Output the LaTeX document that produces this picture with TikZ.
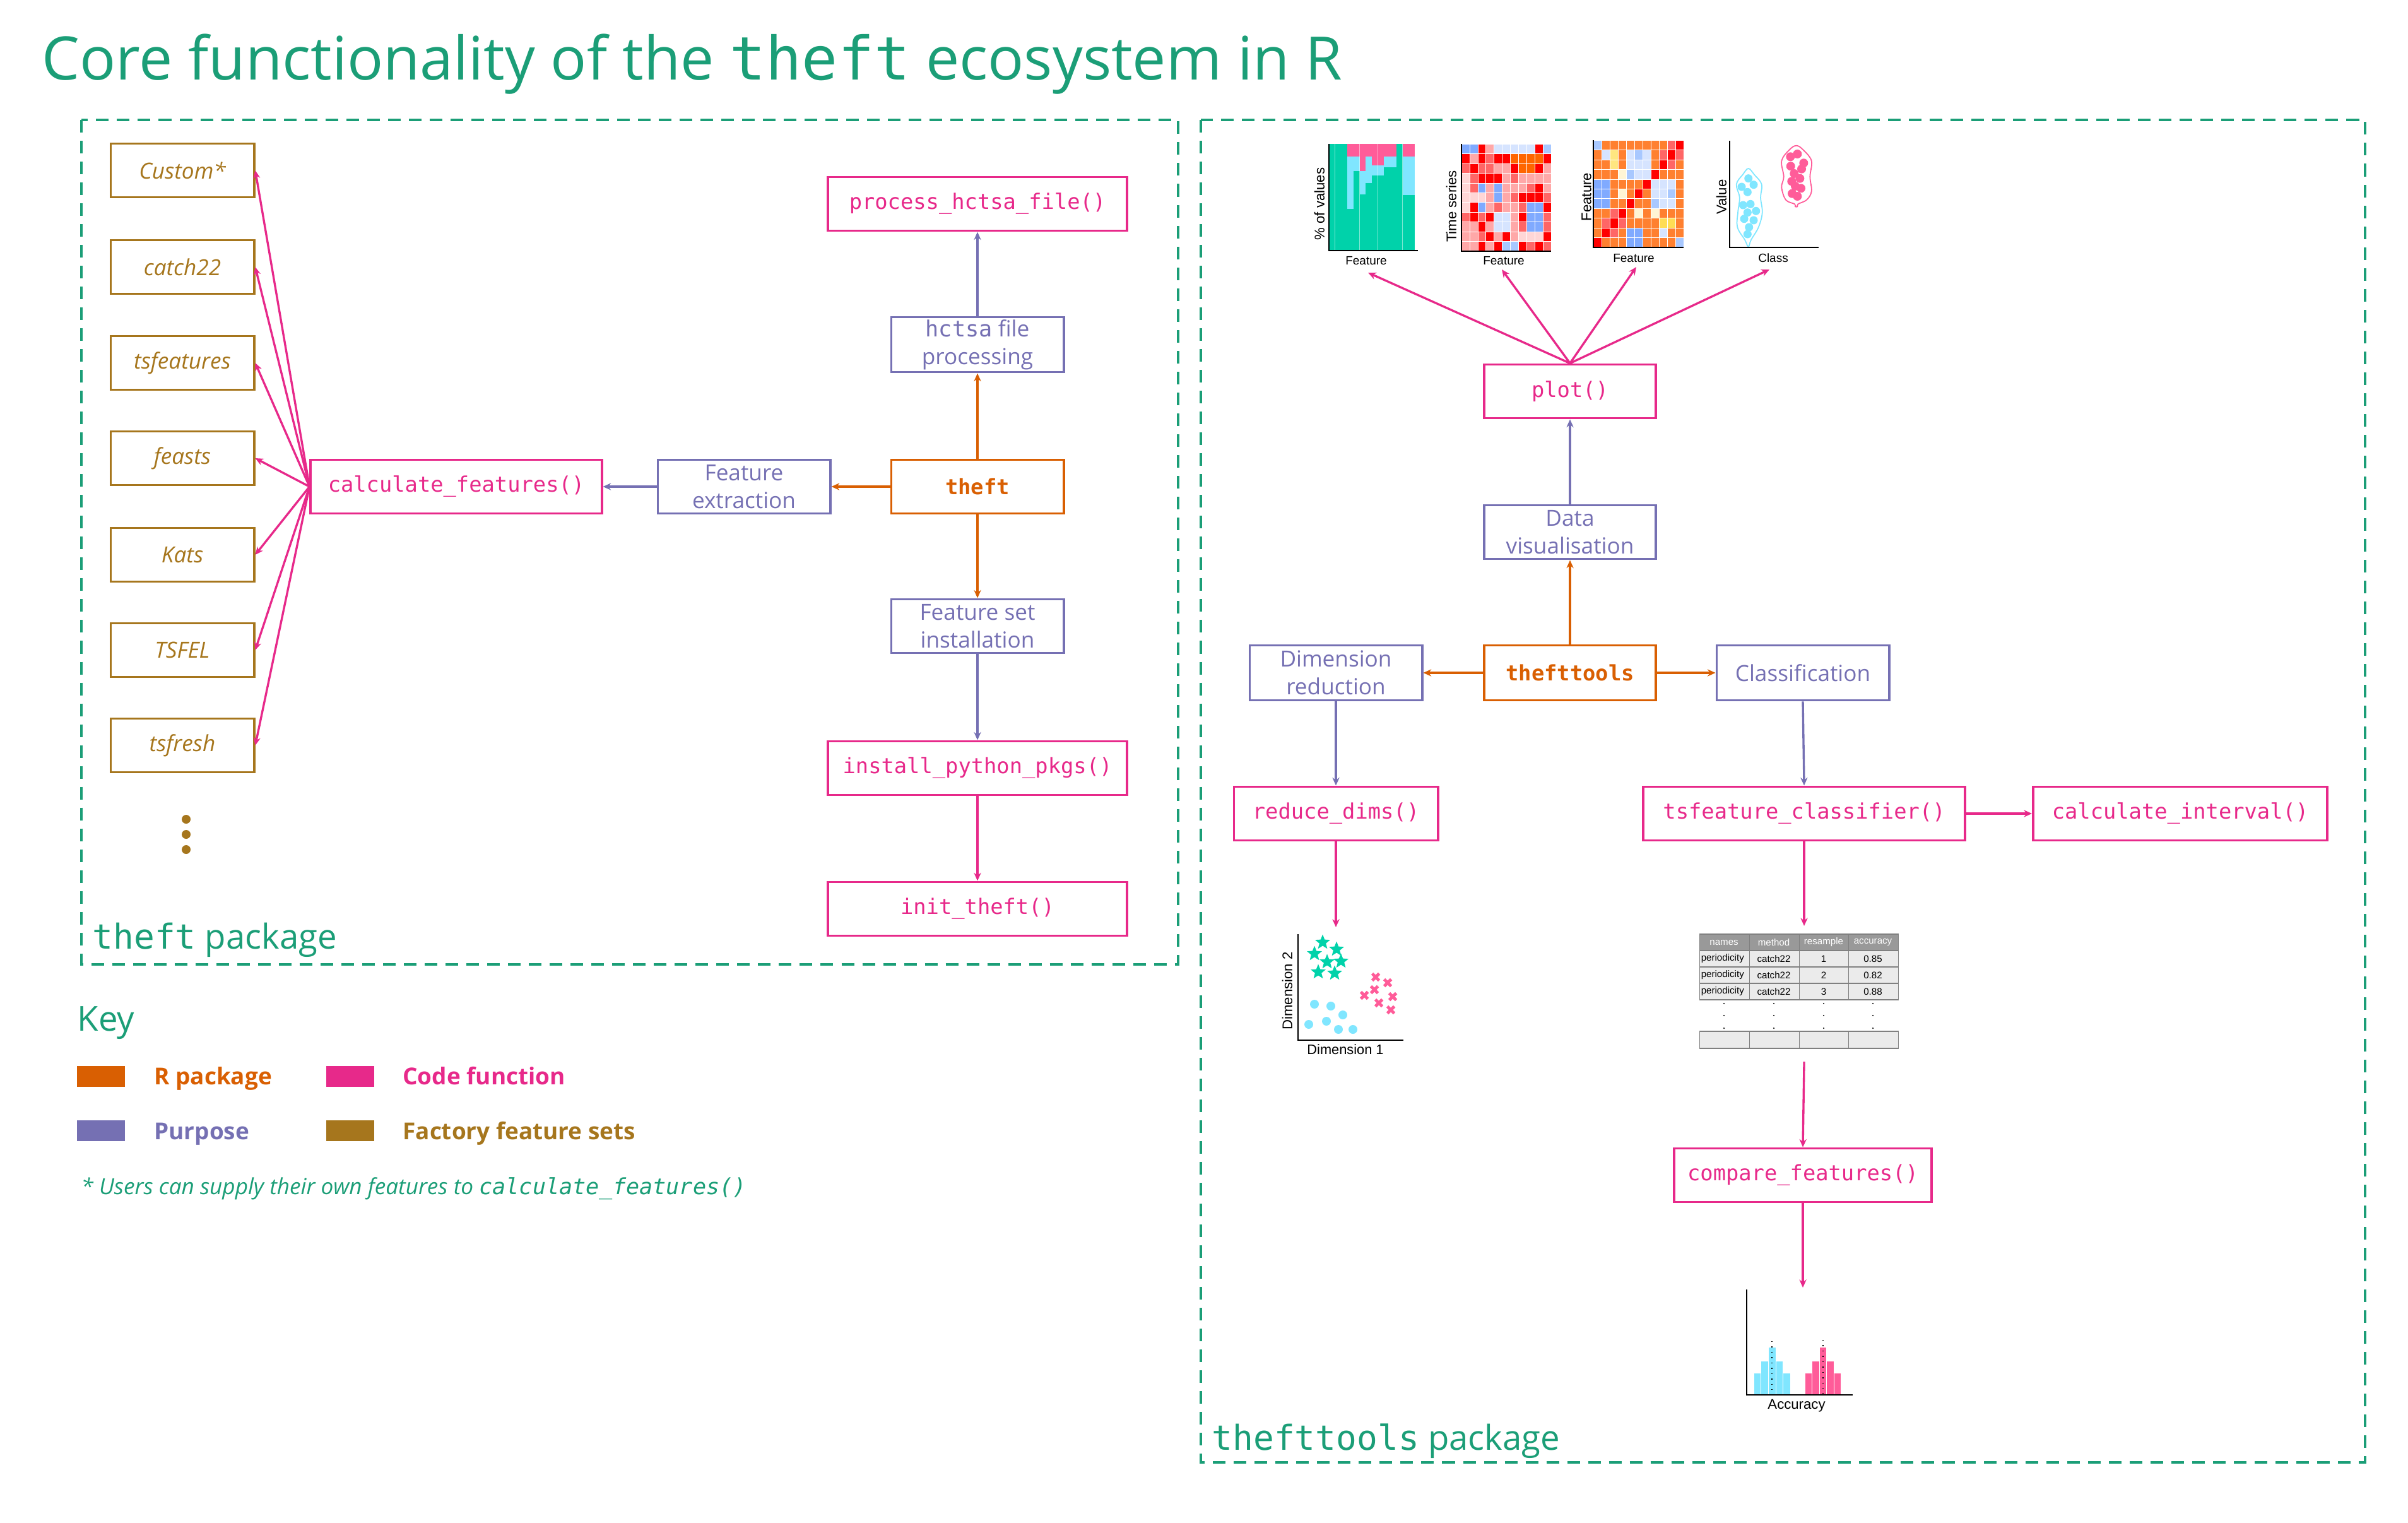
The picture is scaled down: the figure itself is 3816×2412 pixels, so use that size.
\documentclass[tikz,border=0pt]{standalone}
\usepackage{fontspec}
\setmainfont{Open Sans}
\setmonofont{DejaVu Sans Mono}
\newfontfamily\plotfont{Liberation Sans}
\usetikzlibrary{arrows.meta,shapes.geometric}

\definecolor{pkgorange}{HTML}{D95F02}
\definecolor{purpose}{HTML}{7570B3}
\definecolor{codepink}{HTML}{E7298A}
\definecolor{setbrown}{HTML}{A6761D}
\definecolor{titlegreen}{HTML}{1B9E77}
% plot colours
\definecolor{ptgreen}{HTML}{00D2AA}
\definecolor{ptcyan}{HTML}{80E6FF}
\definecolor{ptpink}{HTML}{FF5C99}
\definecolor{hmR}{HTML}{FF0000}
\definecolor{hmM}{HTML}{FF6666}
\definecolor{hmP}{HTML}{FFA8A8}
\definecolor{hmL}{HTML}{FFD6D6}
\definecolor{hmB}{HTML}{80AAFF}
\definecolor{hmS}{HTML}{A8C8FF}
\definecolor{hmC}{HTML}{D6E4FF}
\definecolor{hmD}{HTML}{FF6600}
\definecolor{hmO}{HTML}{FF8030}
\definecolor{hmY}{HTML}{FFE680}
\definecolor{hmW}{HTML}{FFF5D5}
\definecolor{hmG}{HTML}{FFDD55}
\definecolor{tabhead}{HTML}{999999}
\definecolor{tabrow}{HTML}{EBEBEB}

\newcommand{\codefont}{\fontsize{9.6}{11}\selectfont\ttfamily}
\newcommand{\purpfont}{\fontsize{10}{12.6}\selectfont}
\newcommand{\featsetfont}{\fontsize{10}{12}\selectfont\itshape}
\newcommand{\keyfont}{\fontsize{10.5}{12}\selectfont\bfseries}

\begin{document}
\begin{tikzpicture}[
    x=0.01cm, y=-0.01cm,
    box/.style={draw, line width=1.1pt, minimum height=0.85cm, inner sep=1pt, align=center},
    fnbox/.style={box, draw=codepink, text=codepink, font=\codefont},
    pkgbox/.style={box, draw=pkgorange, text=pkgorange, font=\codefont\bfseries, minimum width=2.73cm},
    purpbox/.style={box, draw=purpose, text=purpose, font=\purpfont, minimum width=2.73cm},
    setbox/.style={box, draw=setbrown, text=setbrown, font=\featsetfont, minimum width=2.27cm},
    arr/.style={-{Stealth[length=3.6pt, width=3.2pt]}, line width=0.95pt},
    panel/.style={draw=titlegreen, line width=1.1pt, dash pattern=on 0.2cm off 0.13cm},
    keysq/.style={minimum width=0.75cm, minimum height=0.33cm, inner sep=0pt},
    keylbl/.style={anchor=base west, font=\keyfont},
    axis/.style={line width=0.6pt, black},
    lbl/.style={font=\plotfont\fontsize{5.4}{6}\selectfont, inner sep=0pt},
    ylbl/.style={font=\plotfont\fontsize{6.3}{7}\selectfont, inner sep=0pt, rotate=90},
    cell/.style={draw=white, line width=0.15pt},
    tabtxt/.style={font=\plotfont\fontsize{4.3}{5}\selectfont, inner sep=0pt},
  ]
    \useasboundingbox (0,0) rectangle (3816,2412);

    % --- Title ---
    \node[anchor=base west, text=titlegreen, font=\fontsize{27}{31}\selectfont, inner sep=0pt] (title) at (66,127)
      {Core functionality of the {\ttfamily theft} ecosystem in R};

    % --- Panels ---
    \draw[panel] (129,190) rectangle (1867,1528);
    \draw[panel] (1903,190) rectangle (3748,2317);
    \node[anchor=base west, text=titlegreen, font=\fontsize{15.5}{18}\selectfont, inner sep=0pt] (theftlbl) at (146,1503)
      {{\ttfamily theft} package};
    \node[anchor=base west, text=titlegreen, font=\fontsize{15.5}{18}\selectfont, inner sep=0pt] (toolslbl) at (1920,2297)
      {{\ttfamily thefttools} package};

    % --- theft: feature sets ---
    \node[setbox] (custom)  at (289,270)  {Custom*};
    \node[setbox] (catch)   at (289,423)  {catch22};
    \node[setbox] (tsfeat)  at (289,575)  {tsfeatures};
    \node[setbox] (feasts)  at (289,726)  {feasts};
    \node[setbox] (kats)    at (289,879)  {Kats};
    \node[setbox] (tsfel)   at (289,1030) {TSFEL};
    \node[setbox] (tsfresh) at (289,1181) {tsfresh};
    \fill[setbrown] (295,1298) circle (0.07cm) (295,1322) circle (0.07cm) (295,1346) circle (0.07cm);

    % --- theft: functions and purposes ---
    \node[fnbox, minimum width=4.61cm] (calcfeat)  at (723,771)  {calculate\_features()};
    \node[purpbox] (featext)  at (1179,771) {Feature\\extraction};
    \node[pkgbox]  (theft)    at (1549,771) {theft};
    \node[purpbox, minimum height=0.87cm] (hctsa) at (1549,546) {{\ttfamily hctsa} file\\processing};
    \node[fnbox, minimum width=4.74cm] (prochctsa) at (1549,323)  {process\_hctsa\_file()};
    \node[purpbox] (featset)  at (1549,992) {Feature set\\installation};
    \node[fnbox, minimum width=4.74cm] (installpy) at (1549,1217) {install\_python\_pkgs()};
    \node[fnbox, minimum width=4.74cm] (inittheft) at (1549,1440) {init\_theft()};

    \foreach \s in {custom,catch,tsfeat,feasts,kats,tsfel,tsfresh}
      \draw[arr, codepink] (calcfeat.west) -- (\s.east);
    \draw[arr, purpose]   (featext.west) -- (calcfeat.east);
    \draw[arr, pkgorange] (theft.west) -- (featext.east);
    \draw[arr, pkgorange] (theft.north) -- (hctsa.south);
    \draw[arr, purpose]   (hctsa.north) -- (prochctsa.south);
    \draw[arr, pkgorange] (theft.south) -- (featset.north);
    \draw[arr, purpose]   (featset.south) -- (installpy.north);
    \draw[arr, codepink]  (installpy.south) -- (inittheft.north);

    % --- Key ---
    \node[anchor=base west, text=titlegreen, font=\fontsize{15.5}{18}\selectfont, inner sep=0pt] (keytitle) at (122,1633) {Key};
    \node[keysq, fill=pkgorange] (keypkg) at (160,1705) {};
    \node[keylbl, text=pkgorange] at (232,1718) {R package};
    \node[keysq, fill=codepink] (keyfn) at (555,1705) {};
    \node[keylbl, text=codepink] at (626,1718) {Code function};
    \node[keysq, fill=purpose] (keypurp) at (160,1791) {};
    \node[keylbl, text=purpose] at (232,1805) {Purpose};
    \node[keysq, fill=setbrown] (keyset) at (555,1791) {};
    \node[keylbl, text=setbrown] at (626,1805) {Factory feature sets};
    \node[anchor=base west, text=titlegreen, font=\fontsize{10}{12}\selectfont\itshape, inner sep=0pt] (note) at (128,1892)
      {* Users can supply their own features to {\ttfamily calculate\_features()}};

    % --- thefttools: functions and purposes ---
    \node[fnbox, minimum width=2.72cm] (plotfn) at (2488,620) {plot()};
    \node[purpbox, minimum width=2.72cm] (datavis) at (2488,843) {Data\\visualisation};
    \node[pkgbox, minimum width=2.72cm, minimum height=0.87cm] (thefttools) at (2488,1066) {thefttools};
    \node[purpbox, minimum height=0.87cm] (dimred) at (2117,1066) {Dimension\\reduction};
    \node[purpbox, minimum height=0.87cm] (classif) at (2857,1066) {Classification};
    \node[fnbox, minimum width=3.23cm] (reducedims) at (2117,1289) {reduce\_dims()};
    \node[fnbox, minimum width=5.09cm] (tsclass) at (2859,1289) {tsfeature\_classifier()};
    \node[fnbox, minimum width=4.66cm] (calcint) at (3455,1289) {calculate\_interval()};
    \node[fnbox, minimum width=4.08cm] (comparefeat) at (2857,1862) {compare\_features()};

    \coordinate (barend)     at (2168,432);
    \coordinate (tsheatend)  at (2380,427);
    \coordinate (ftheatend)  at (2593,423);
    \coordinate (violend)    at (2804,427);
    \coordinate (dimplotend) at (2117,1469);
    \coordinate (tabletop)   at (2859,1467);
    \coordinate (tablebot)   at (2859,1682);
    \coordinate (histend)    at (2857,2040);

    \draw[arr, pkgorange] (thefttools.north) -- (datavis.south);
    \draw[arr, purpose]   (datavis.north) -- (plotfn.south);
    \foreach \p in {barend,tsheatend,ftheatend,violend}
      \draw[arr, codepink] (plotfn.north) -- (\p);
    \draw[arr, pkgorange] (thefttools.west) -- (dimred.east);
    \draw[arr, pkgorange] (thefttools.east) -- (classif.west);
    \draw[arr, purpose]   (dimred.south) -- (reducedims.north);
    \draw[arr, purpose]   (classif.south) -- (tsclass.north);
    \draw[arr, codepink, line width=1.3pt] (tsclass.east) -- (calcint.west);
    \draw[arr, codepink]  (reducedims.south) -- (dimplotend);
    \draw[arr, codepink]  (tsclass.south) -- (tabletop);
    \draw[arr, codepink]  (tablebot) -- (comparefeat.north);
    \draw[arr, codepink]  (comparefeat.south) -- (histend);

    % --- plot 1: stacked bars ---
    \foreach \p/\c [count=\k] in {228/228,228/228,228/228,248/331,248/271,271/308,248/290,
                                 262/278,262/278,248/265,248/265,228/228,248/309,248/309} {
      \fill[ptpink]  ({2106+(\k-1)*9.71},228) rectangle ++(9.71,{\p-228});
      \fill[ptcyan]  ({2106+(\k-1)*9.71},\p) rectangle ++(9.71,{\c-\p});
      \fill[ptgreen] ({2106+(\k-1)*9.71},\c) rectangle ++(9.71,{397-\c});
      \draw[white, line width=0.15pt, opacity=0.5] ({2106+\k*9.71},228) -- ++(0,169);
    }
    \draw[axis] (2106,228) -- (2106,397) -- (2247,397);
    \node[ylbl] at (2091,323) {\% of values};
    \node[lbl]  at (2165,413) {Feature};

    % --- plot 2: time series heatmap ---
    \foreach \row [count=\r] in {{B,B,R,P,C,C,C,C,C,R,S},{R,P,R,M,R,R,D,D,D,D,R},{M,R,M,M,P,P,R,D,D,R,P},
        {L,M,R,R,R,P,M,P,P,P,P},{L,M,B,P,B,P,P,P,M,R,P},{L,L,L,P,B,P,M,R,R,R,M},
        {L,R,B,P,M,P,P,M,B,B,R},{M,R,M,R,C,C,P,R,B,B,M},{P,P,R,P,C,C,P,M,B,B,M},
        {P,P,M,R,P,R,P,L,L,L,R},{P,P,R,P,R,S,S,R,M,R,M}}
      \foreach \c [count=\k] in \row
        \filldraw[cell, fill=hm\c] ({2316+(\k-1)*12.9},{228+(\r-1)*15.45}) rectangle ++(12.9,15.45);
    \draw[axis] (2316,228) -- (2316,398) -- (2458,398);
    \node[ylbl] at (2300,327) {Time series};
    \node[lbl]  at (2383,413) {Feature};

    % --- plot 3: feature heatmap ---
    \foreach \row [count=\r] in {{S,O,O,O,O,O,O,O,O,M,R},{O,C,Y,O,C,S,C,O,M,R,M},{O,O,Y,O,C,C,C,O,R,M,O},
        {O,O,O,W,S,C,C,R,O,O,O},{B,B,O,O,O,O,R,C,C,C,O},{B,B,O,W,O,R,O,C,C,S,O},
        {B,B,O,O,R,O,O,S,C,C,O},{O,O,M,R,O,W,O,W,O,O,O},{O,M,R,M,O,O,O,O,G,G,O},
        {O,R,M,O,B,B,O,O,C,O,O},{R,O,O,O,B,B,O,O,O,O,S}}
      \foreach \c [count=\k] in \row
        \filldraw[cell, fill=hm\c] ({2525+(\k-1)*13},{222+(\r-1)*15.45}) rectangle ++(13,15.45);
    \draw[axis] (2525,222) -- (2525,392) -- (2668,392);
    \node[ylbl] at (2514,312) {Feature};
    \node[lbl]  at (2589,409) {Feature};

    % --- plot 4: violins ---
    \draw[ptcyan, line width=0.5pt] plot[smooth cycle, tension=0.6] coordinates {
      (2770.7,267) (2780,276.7) (2791.7,292) (2790,313) (2792.7,336.7) (2786.7,360) (2775,380) (2771.5,390)
      (2769.5,390) (2765,380) (2753.3,360) (2754,336.7) (2756.7,313) (2751.7,292) (2761.7,276.7)};
    \draw[ptpink, line width=0.5pt] plot[smooth cycle, tension=0.6] coordinates {
      (2846.7,230.7) (2858,238) (2870.7,255) (2868.3,280) (2870.7,303) (2863,316.7) (2849.3,323.3) (2848.3,327.3)
      (2845,327.3) (2844,323.3) (2830,316.7) (2823.3,296.7) (2826.7,280) (2823.3,255) (2835,238)};
    \foreach \px/\py in {2770.7/282.7,2779/292.7,2760/296,2769.3/304.3,2762.3/325,2774/323.3,
                         2782.7/334.3,2769.3/336.7,2764/346.7,2779/349,2771.7/360,2769.3/371}
      \fill[ptcyan] (\px,\py) circle (0.065cm);
    \foreach \px/\py in {2837.3/248.3,2848.3/244,2858.3/258.3,2837.7/263.3,2855/267.7,2843.3/275,
                         2852.3/282.7,2839.3/287.3,2845/295,2854/298.3,2840/306.7,2848.3/311}
      \fill[ptpink] (\px,\py) circle (0.07cm);
    \draw[axis] (2741,223) -- (2741,392) -- (2882,392);
    \node[ylbl] at (2728,312) {Value};
    \node[lbl]  at (2810,409) {Class};

    % --- dimension reduction plot ---
    \foreach \px/\py in {2096/1493,2083/1511,2118/1504,2103/1524,2125/1523,2089/1540,2115/1542}
      \node[star, star points=5, star point ratio=2.3, fill=ptgreen, inner sep=0pt, minimum size=0.25cm] at (\px,\py) {};
    \foreach \px/\py in {2083/1591,2109/1594,2128/1608,2074/1623,2102/1618,2121/1631,2144/1631}
      \fill[ptcyan] (\px,\py) circle (0.07cm);
    \foreach \px/\py in {2180/1548,2199/1557,2178/1568,2162/1577,2207/1579,2185/1589,2204/1600}
      \draw[ptpink, line width=1.4pt] (\px-5.5,\py-5.5) -- (\px+5.5,\py+5.5) (\px-5.5,\py+5.5) -- (\px+5.5,\py-5.5);
    \draw[axis] (2057,1480) -- (2057,1648) -- (2224,1648);
    \node[ylbl] at (2040,1570) {Dimension 2};
    \node[lbl, font=\plotfont\fontsize{6.2}{7}\selectfont] at (2132,1663) {Dimension 1};

    % --- classifier output table ---
    \fill[tabhead] (2693,1480) rectangle (3008,1506);
    \fill[tabrow] (2693,1506) rectangle (3008,1584);
    \fill[tabrow] (2693,1634) rectangle (3008,1661);
    \draw[gray, line width=0.3pt] (2693,1480) rectangle (3008,1584) (2693,1634) rectangle (3008,1661);
    \foreach \yy in {1506,1532,1558} \draw[gray, line width=0.3pt] (2693,\yy) -- (3008,\yy);
    \foreach \xx in {2772,2851,2929} \draw[gray, line width=0.3pt] (\xx,1480) -- (\xx,1584) (\xx,1634) -- (\xx,1661);
    \foreach \hd/\xx in {names/2732,method/2811,resample/2890,accuracy/2968}
      \node[tabtxt, text=white] at (\xx,1493) {\hd};
    \foreach \rs/\acc [count=\r] in {1/0.85,2/0.82,3/0.88} {
      \node[tabtxt, anchor=west] at (2695,{1493+\r*26}) {periodicity};
      \node[tabtxt] at (2811,{1493+\r*26}) {catch22};
      \node[tabtxt] at (2890,{1493+\r*26}) {\rs};
      \node[tabtxt] at (2968,{1493+\r*26}) {\acc};
    }
    \foreach \xx in {2732,2811,2890,2968}
      \foreach \yy in {1590,1609,1629}
        \fill[black] (\xx,\yy) circle (0.012cm);

    % --- accuracy histogram ---
    \foreach \h [count=\k] in {2175,2156,2134,2156,2175} {
      \filldraw[fill=ptcyan, draw=white, line width=0.15pt] ({2779+(\k-1)*11.6},\h) rectangle ++(11.6,{2210-\h});
      \filldraw[fill=ptpink, draw=white, line width=0.15pt] ({2860+(\k-1)*11.5},\h) rectangle ++(11.5,{2210-\h});
    }
    \draw[black, dotted, line width=0.4pt] (2808,2125) -- (2808,2208) (2889,2123) -- (2889,2208);
    \draw[axis] (2768,2043) -- (2768,2210) -- (2936,2210);
    \node[lbl, font=\plotfont\fontsize{6.3}{7}\selectfont] at (2847,2227) {Accuracy};
  \end{tikzpicture}
\end{document}
